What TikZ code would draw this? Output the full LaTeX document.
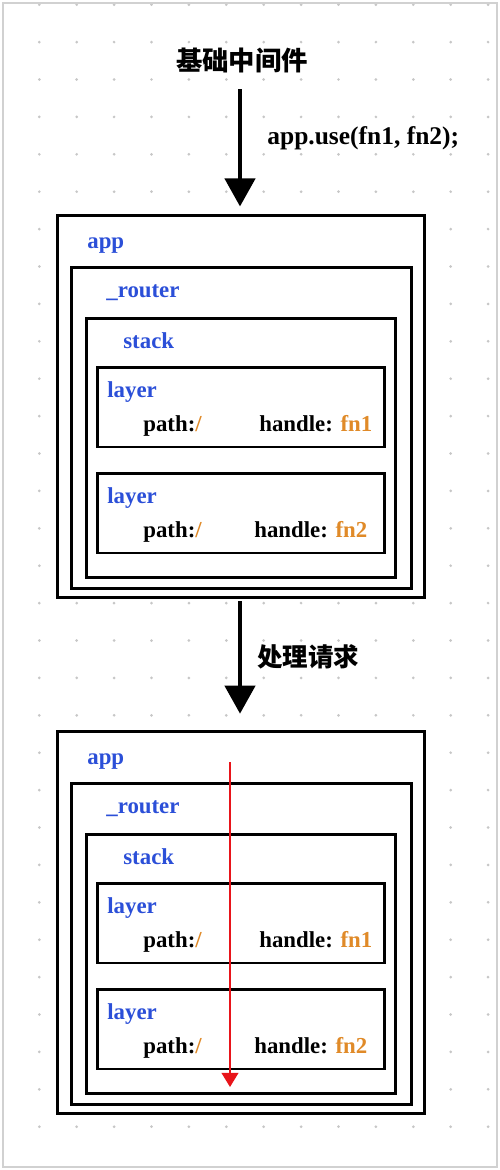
\documentclass[tikz,border=0pt]{standalone}
\usepackage{fontspec}
\setmainfont{Liberation Serif}
\newfontfamily\cjk{Noto Sans CJK SC}
\usepackage{xcolor}
\usetikzlibrary{arrows.meta}

\definecolor{keyblue}{HTML}{2B4FD8}
\definecolor{fnorange}{HTML}{E08A28}
\definecolor{flowred}{HTML}{E8141A}

\begin{document}
\begin{tikzpicture}[
            x=0.02cm, y=-0.02cm,
            font=\bfseries\fontsize{13}{15}\selectfont,
            box/.style    ={draw, line width=1.7pt, fill=white, inner sep=0pt},
            appbox/.style ={box, minimum width=7.36cm, minimum height=7.66cm},
            rtbox/.style  ={box, minimum width=6.82cm, minimum height=6.44cm},
            stbox/.style  ={box, minimum width=6.20cm, minimum height=5.20cm},
            lybox/.style  ={box, minimum width=5.76cm, minimum height=1.60cm},
            key/.style    ={text=keyblue, anchor=base west, inner sep=0pt},
            field/.style  ={anchor=base west, inner sep=0pt},
            note/.style   ={font=\cjk\bfseries\fontsize{15}{17}\selectfont, inner sep=0pt},
            big/.style    ={-{Triangle[length=16pt,width=17pt]}, line width=2.8pt},
            flow/.style   ={-{Triangle[length=8pt,width=9.5pt]}, line width=0.9pt, draw=flowred}
        ]
        \useasboundingbox (0,0) rectangle (500,1170);

        % dotted paper and its frame
        \foreach \i in {0,...,12}
            \foreach \j in {0,...,30}
                \fill[black!22] (39.3+37.4*\i, 4.7+37.4*\j) circle (0.85pt);
        \draw[black!18, line width=0.6pt] (3,3) rectangle (497,1167);

        %% --- registering the middleware ---
        \node[note] (title) at (242,60) {基础中间件};
        \coordinate (in) at (240,89);
        \node[field, font=\bfseries\fontsize{14.5}{16}\selectfont] (use) at (267,144) {app.use(fn1, fn2);};

        %% --- first app (top) ---
        \node[appbox] (app)    at (241,406.5) {};
        \node[rtbox]  (router) at (241.5,428) {};
        \node[stbox]  (stack)  at (241,448)   {};
        \node[lybox]  (layA)   at (241,407)   {};
        \node[lybox]  (layB)   at (241,513)   {};

        \node[key] (appL)    at (87,248)  {app};
        \node[key] (routerL) at (106,297) {\_router};
        \node[key] (stackL)  at (123,348) {stack};
        \node[key] (layAL)   at (107,397) {layer};
        \node[field] (pathA) at (143,431) {path:\textcolor{fnorange}{/}};
        \node[field] (fnA)   at (259,431) {handle: \textcolor{fnorange}{fn1}};
        \node[key] (layBL)   at (107,503) {layer};
        \node[field] (pathB) at (143,537) {path:\textcolor{fnorange}{/}};
        \node[field] (fnB)   at (254,537) {handle: \textcolor{fnorange}{fn2}};

        \draw[big, shorten >=4pt] (in) -- (in |- app.north);

        %% --- handling a request ---
        \node[note, font=\cjk\bfseries\fontsize{14.5}{16}\selectfont] (handle) at (308,657) {处理请求};

        %% --- second app (bottom) ---
        \node[appbox] (app2)    at (241,922.5) {};
        \node[rtbox]  (router2) at (241.5,944) {};
        \node[stbox]  (stack2)  at (241,964)   {};
        \node[lybox]  (layA2)   at (241,923)   {};
        \node[lybox]  (layB2)   at (241,1029)  {};

        \node[key] (appL2)    at (87,764)  {app};
        \node[key] (routerL2) at (106,813) {\_router};
        \node[key] (stackL2)  at (123,864) {stack};
        \node[key] (layAL2)   at (107,913) {layer};
        \node[field] (pathA2) at (143,947) {path:\textcolor{fnorange}{/}};
        \node[field] (fnA2)   at (259,947) {handle: \textcolor{fnorange}{fn1}};
        \node[key] (layBL2)   at (107,1019) {layer};
        \node[field] (pathB2) at (143,1053) {path:\textcolor{fnorange}{/}};
        \node[field] (fnB2)   at (254,1053) {handle: \textcolor{fnorange}{fn2}};

        \draw[big, shorten <=1pt, shorten >=9pt] (in |- app.south) -- (in |- app2.north);

        % the request runs down through the layers
        \coordinate (req)  at (230,762);
        \coordinate (done) at (230,1087);
        \draw[flow] (req) -- (done);

    \end{tikzpicture}
\end{document}
